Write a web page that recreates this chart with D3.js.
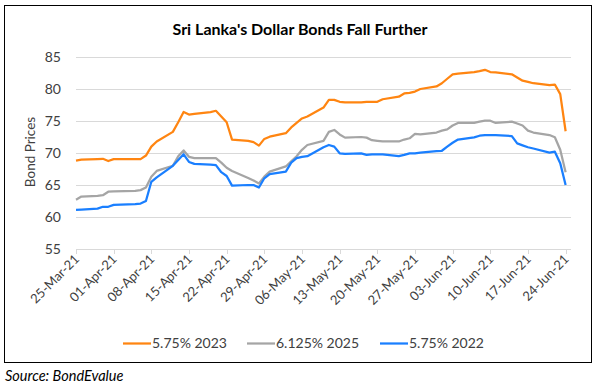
<!DOCTYPE html>
<html>
<head>
<meta charset="utf-8">
<script src="https://cdn.jsdelivr.net/npm/d3@7"></script>
<style>
  body { margin: 0; background: #fff; }
  text { font-family: Lato, "Open Sans", sans-serif; fill: #404040; }
</style>
</head>
<body>
<div id="chart"></div>
<script>
// trading days
var dates = [
  "2021-03-25","2021-03-26","2021-03-29","2021-03-30","2021-03-31","2021-04-01",
  "2021-04-05","2021-04-06","2021-04-07","2021-04-08","2021-04-09",
  "2021-04-12","2021-04-13","2021-04-14","2021-04-15","2021-04-16",
  "2021-04-19","2021-04-20","2021-04-21","2021-04-22","2021-04-23",
  "2021-04-26","2021-04-27","2021-04-28","2021-04-29","2021-04-30",
  "2021-05-03","2021-05-04","2021-05-05","2021-05-06","2021-05-07",
  "2021-05-10","2021-05-11","2021-05-12","2021-05-13","2021-05-14",
  "2021-05-17","2021-05-18","2021-05-19","2021-05-20","2021-05-21",
  "2021-05-24","2021-05-25","2021-05-26","2021-05-27","2021-05-28",
  "2021-05-31","2021-06-01","2021-06-02","2021-06-03","2021-06-04",
  "2021-06-07","2021-06-08","2021-06-09","2021-06-10","2021-06-11",
  "2021-06-14","2021-06-15","2021-06-16","2021-06-17","2021-06-18",
  "2021-06-21","2021-06-22","2021-06-23","2021-06-24"
];

var bond2023 = [
  68.8, 68.95, 69.05, 69.1, 68.75, 69.05,
  69.05, 69.05, 69.6, 71.0, 71.8,
  73.3, 74.8, 76.4, 76.0, 76.1,
  76.4, 76.6, 75.7, 74.8, 72.1,
  71.9, 71.7, 71.15, 72.2, 72.55,
  73.1, 74.0, 74.7, 75.4, 75.7,
  77.1, 78.3, 78.3, 78.0, 77.9,
  77.9, 78.0, 78.0, 78.0, 78.4,
  78.8, 79.3, 79.4, 79.6, 80.0,
  80.4, 80.9, 81.6, 82.3, 82.4,
  82.65, 82.8, 83.0, 82.65, 82.6,
  82.3, 81.8, 81.3, 81.1, 80.9,
  80.6, 80.7, 79.2, 73.4
];

var bond2025 = [
  62.7, 63.2, 63.3, 63.4, 63.95, 64.0,
  64.1, 64.2, 64.6, 66.3, 67.2,
  68.0, 69.5, 70.4, 69.4, 69.2,
  69.2, 69.2, 68.5, 67.7, 67.2,
  66.1, 65.7, 65.25, 66.3, 67.1,
  67.9, 68.7, 69.5, 70.5, 71.25,
  71.9, 73.3, 73.6, 72.9, 72.4,
  72.5, 72.4, 72.0, 71.9, 71.8,
  71.8, 72.1, 72.3, 73.0, 72.9,
  73.2, 73.5, 73.7, 74.3, 74.7,
  74.7, 74.9, 75.05, 75.05, 74.7,
  74.9, 74.6, 74.3, 73.5, 73.2,
  72.8, 72.45, 70.5, 67.0
];

var bond2022 = [
  61.1, 61.15, 61.3, 61.6, 61.6, 61.9,
  62.0, 62.1, 62.5, 65.5, 66.2,
  68.0, 68.9, 69.8, 68.6, 68.3,
  68.2, 68.1, 67.0, 66.4, 64.9,
  65.0, 65.0, 64.6, 66.05, 66.7,
  67.1, 68.5, 69.2, 69.4, 69.5,
  70.9, 71.25, 71.0, 69.95, 69.85,
  69.95, 69.7, 69.8, 69.8, 69.8,
  69.5, 69.7, 69.95, 69.95, 70.05,
  70.3, 70.35, 71.0, 71.6, 72.1,
  72.45, 72.7, 72.8, 72.8, 72.8,
  72.65, 71.5, 71.2, 70.9, 70.7,
  70.05, 70.2, 68.4, 65.0
];

var seriesNames = ["5.75% 2023", "6.125% 2025", "5.75% 2022"];
var seriesColors = ["#ff8511", "#a5a5a5", "#1a7fff"];
var yTicks = [55, 60, 65, 70, 75, 80, 85];

var W = 602, H = 387;
var parse = d3.timeParse("%Y-%m-%d");
var fmt = d3.timeFormat("%d-%b-%y");

var svg = d3.select("#chart").append("svg")
  .attr("width", W).attr("height", H);

// outer frame
svg.append("rect")
  .attr("x", 4.5).attr("y", 5.5)
  .attr("width", 587).attr("height", 357)
  .attr("fill", "none").attr("stroke", "#000").attr("stroke-width", 1);

var x = d3.scaleTime()
  .domain([parse("2021-03-25"), parse("2021-06-25")])
  .range([76, 571]);
var y = d3.scaleLinear().domain([55, 85]).range([249, 57]);

// gridlines
svg.append("g")
  .selectAll("line").data(yTicks).enter().append("line")
  .attr("x1", 76).attr("x2", 571)
  .attr("y1", function(d) { return Math.round(y(d)) + 0.5; })
  .attr("y2", function(d) { return Math.round(y(d)) + 0.5; })
  .attr("stroke", "#d9d9d9").attr("stroke-width", 1);

// y labels
svg.append("g")
  .selectAll("text").data(yTicks).enter().append("text")
  .attr("x", 61).attr("y", function(d) { return y(d) + 5; })
  .attr("text-anchor", "end")
  .style("font-size", "14px")
  .text(function(d) { return d; });

svg.append("text")
  .attr("transform", "translate(35,152) rotate(-90)")
  .attr("text-anchor", "middle")
  .style("font-size", "13.5px")
  .text("Bond Prices");

// x axis ticks (weekly)
var xTicks = d3.range(14).map(function(i) { return d3.timeDay.offset(parse("2021-03-25"), i * 7); });

var xg = svg.append("g");
xg.selectAll("line").data(xTicks).enter().append("line")
  .attr("x1", function(d) { return Math.round(x(d)) + 0.5; })
  .attr("x2", function(d) { return Math.round(x(d)) + 0.5; })
  .attr("y1", 249.5).attr("y2", 254)
  .attr("stroke", "#d9d9d9");

xg.selectAll("text").data(xTicks).enter().append("text")
  .attr("transform", function(d) { return "translate(" + (x(d) + 4) + ",260) rotate(-45)"; })
  .attr("text-anchor", "end")
  .style("font-size", "13px")
  .text(function(d) { return fmt(d); });

// title
svg.append("text")
  .attr("x", 300).attr("y", 35)
  .attr("text-anchor", "middle")
  .style("font-size", "16px").style("font-weight", "bold")
  .style("fill", "#000")
  .text("Sri Lanka's Dollar Bonds Fall Further");

// lines
var allSeries = [bond2023, bond2025, bond2022];
var line = d3.line()
  .x(function(d, i) { return x(parse(dates[i])); })
  .y(function(d) { return y(d); });

svg.append("g")
  .selectAll("path").data(allSeries).enter().append("path")
  .attr("d", line)
  .attr("fill", "none")
  .attr("stroke", function(d, i) { return seriesColors[i]; })
  .attr("stroke-width", 2.25)
  .attr("stroke-linejoin", "round");

// legend
var legendX = [123, 247, 380];
var legend = svg.append("g");
legend.selectAll("g").data(seriesNames).enter().append("g").each(function(d, i) {
  var g = d3.select(this);
  g.append("line")
    .attr("x1", legendX[i]).attr("x2", legendX[i] + 28)
    .attr("y1", 343.5).attr("y2", 343.5)
    .attr("stroke", seriesColors[i]).attr("stroke-width", 2.25);
  g.append("text")
    .attr("x", legendX[i] + 29).attr("y", 348)
    .style("font-size", "14px")
    .text(d);
});

// source
svg.append("text")
  .attr("x", 5).attr("y", 381)
  .style("font-size", "14.5px").style("font-style", "italic")
  .style("fill", "#000")
  .text("Source: BondEvalue");
</script>
</body>
</html>
